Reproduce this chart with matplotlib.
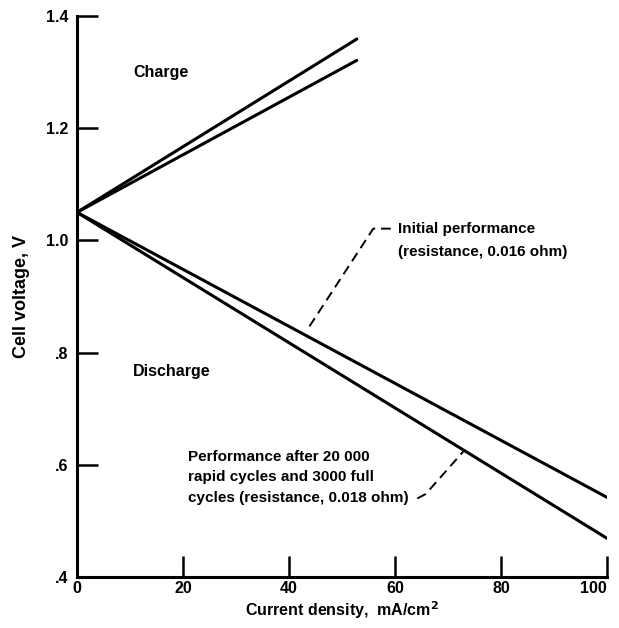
import matplotlib.pyplot as plt

plt.rcParams['font.family'] = ['Liberation Sans', 'DejaVu Sans']
plt.rcParams['font.weight'] = 'bold'
plt.rcParams['axes.labelweight'] = 'bold'

# current density end points, mA/cm2
charge_current = [0, 52.8]
discharge_current = [0, 100]

# cell voltage, V
charge_initial = [1.05, 1.321]
charge_cycled = [1.05, 1.359]
discharge_initial = [1.05, 0.542]
discharge_cycled = [1.05, 0.469]

x_ticks = [0, 20, 40, 60, 80, 100]
y_ticks = [0.4, 0.6, 0.8, 1.0, 1.2, 1.4]
y_tick_labels = ['.4', '.6', '.8', '1.0', '1.2', '1.4']

initial_label = 'Initial performance\n(resistance, 0.016 ohm)'
cycled_label = 'Performance after 20 000\nrapid cycles and 3000 full\ncycles (resistance, 0.018 ohm)'

fig = plt.figure(figsize=(6.19, 6.28), dpi=100)
ax = fig.add_axes([0.1244, 0.0812, 0.8562, 0.8933])

lw = 2.2
ax.plot(charge_current, charge_initial, color='black', lw=lw, solid_capstyle='round')
ax.plot(charge_current, charge_cycled, color='black', lw=lw, solid_capstyle='round')
ax.plot(discharge_current, discharge_initial, color='black', lw=lw, solid_capstyle='round')
ax.plot(discharge_current, discharge_cycled, color='black', lw=lw, solid_capstyle='round')

ax.set_xlim(0, 100)
ax.set_ylim(0.4, 1.4)
ax.set_xticks(x_ticks)
ax.set_yticks(y_ticks)
ax.set_yticklabels(y_tick_labels)

for side in ['top', 'right']:
    ax.spines[side].set_visible(False)
for side in ['left', 'bottom']:
    ax.spines[side].set_linewidth(2.2)

ax.tick_params(axis='both', direction='in', length=15, width=1.8, labelsize=11.5, pad=3)
ax.tick_params(axis='y', pad=6)
# keep the last x label inside the figure
ax.get_xticklabels()[-1].set_horizontalalignment('right')
ax.get_xticklabels()[-1].set_x(100)

ax.set_xlabel('Current density,  mA/cm$^\\mathbf{2}$', fontsize=11.5, labelpad=2)
ax.set_ylabel('Cell voltage, V', fontsize=13, labelpad=12)

ax.text(10.6, 1.30, 'Charge', fontsize=11.5, va='center')
ax.text(10.6, 0.766, 'Discharge', fontsize=11.5, va='center')

# leader lines for the two curve labels
ax.text(60.6, 1.0, initial_label, fontsize=11, va='center', linespacing=1.75)
ax.plot([59.2, 55.9, 43.6], [1.021, 1.021, 0.843], color='black', lw=1.4, ls=(0, (5, 3)))

ax.text(20.9, 0.578, cycled_label, fontsize=11, va='center', linespacing=1.6)
ax.plot([64.2, 65.8, 73.2], [0.540, 0.548, 0.627], color='black', lw=1.4, ls=(0, (5, 3)))

fig.savefig('out.png', dpi=100, facecolor='white')
